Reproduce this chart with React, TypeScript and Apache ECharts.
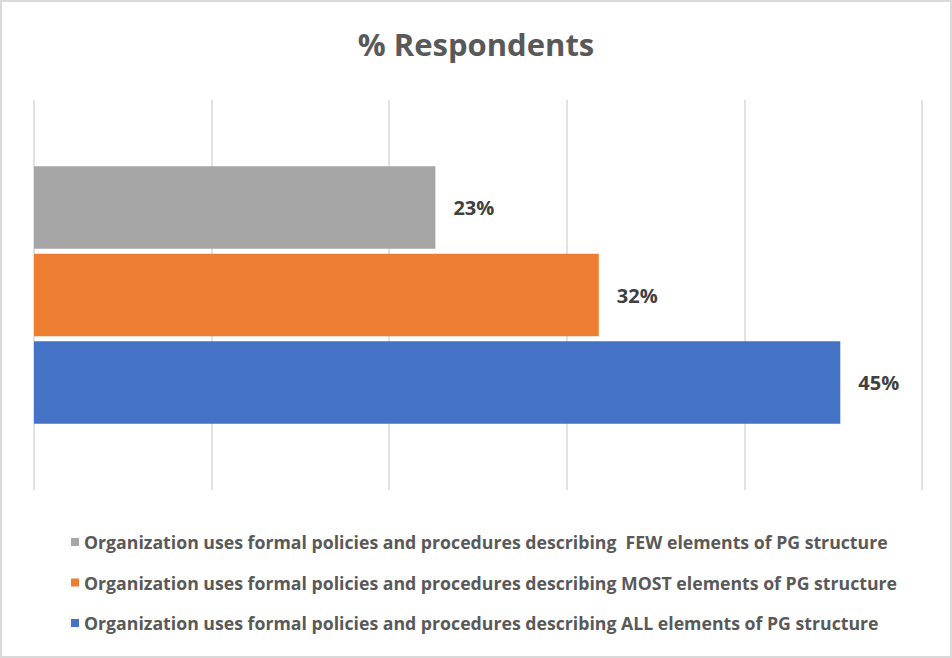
import React, { useEffect, useRef } from "react";
import * as echarts from "echarts";

const seriesNames = [
  "Organization uses formal policies and procedures describing  FEW elements of PG structure",
  "Organization uses formal policies and procedures describing MOST elements of PG structure",
  "Organization uses formal policies and procedures describing ALL elements of PG structure",
];
const seriesValues = [22.6, 31.8, 45.4];
const seriesColors = ["#a5a5a5", "#ed7d31", "#4472c4"];
const categories = ["% Respondents"];
const titleText = "% Respondents";

export default function App() {
  const ref = useRef<HTMLDivElement>(null);
  useEffect(() => {
    if (!ref.current) return;
    const chart = echarts.init(ref.current, undefined, { renderer: "svg" });
    const font = "'Open Sans', 'Noto Sans', sans-serif";
    chart.setOption({
      animation: false,
      backgroundColor: "transparent",
      title: {
        text: titleText,
        left: "center",
        top: 23,
        textStyle: { fontFamily: font, fontSize: 31, fontWeight: "bold", color: "#595959" },
      },
      legend: {
        orient: "vertical",
        left: 66,
        top: 525,
        itemWidth: 8,
        itemHeight: 8,
        itemGap: 16.5,
        icon: "rect",
        data: seriesNames,
        textStyle: { fontFamily: font, fontSize: 17.7, lineHeight: 24, fontWeight: "bold", color: "#595959" },
      },
      grid: { left: 34, right: 30, top: 100, bottom: 168, containLabel: false },
      xAxis: {
        type: "value",
        min: 0,
        max: 50,
        interval: 10,
        axisLabel: { show: false },
        axisLine: { show: false },
        axisTick: { show: false },
        splitLine: { lineStyle: { color: "#d9d9d9", width: 1.5 } },
      },
      yAxis: {
        type: "category",
        data: categories,
        inverse: true,
        axisLabel: { show: false },
        axisLine: { show: false },
        axisTick: { show: false },
      },
      series: seriesNames.map((name, i) => ({
        name,
        type: "bar",
        data: [seriesValues[i]],
        barCategoryGap: "34%",
        barGap: "6%",
        itemStyle: { color: seriesColors[i] },
        label: {
          show: true,
          position: "right",
          distance: 18,
          formatter: (p: any) => Math.round(p.value) + "%",
          fontFamily: font,
          fontSize: 20,
          fontWeight: "bold",
          color: "#404040",
        },
      })),
    });
    return () => chart.dispose();
  }, []);
  return (
    <div
      style={{
        position: "absolute",
        left: 0,
        top: 0,
        width: 952,
        height: 658,
        boxSizing: "border-box",
        border: "2px solid #d9d9d9",
        background: "#fff",
      }}
    >
      <div ref={ref} style={{ position: "absolute", left: -2, top: -2, width: 952, height: 658 }} />
    </div>
  );
}
